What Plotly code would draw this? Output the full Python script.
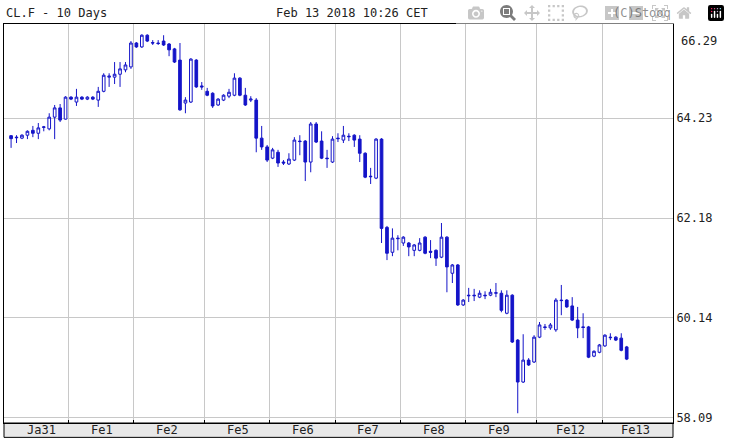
import plotly.graph_objects as go

# hourly candles, CL.F, Jan 31 - Feb 13 2018
opens = [63.87, 63.84, 63.82, 63.88, 63.98, 63.92, 64.04, 64.01, 64.25, 64.44, 64.21,
         64.66, 64.56, 64.66, 64.62, 64.66, 64.60, 64.78, 65.07, 65.07, 65.13, 65.22, 65.28,
         65.77, 65.69, 65.93, 65.78, 65.77, 65.81, 65.75, 65.65, 65.42, 64.54, 64.56, 65.42, 64.89,
         64.78, 64.74, 64.50, 64.60, 64.68, 64.70, 65.05, 64.70, 64.60, 64.60, 63.82, 63.64,
         63.41, 63.53, 63.33, 63.29, 63.37, 63.76, 63.76, 63.33, 64.11, 63.76, 63.41, 63.33,
         63.82, 63.78, 63.86, 63.88, 63.80, 63.51, 63.04, 63.00, 63.80, 61.99, 61.48, 61.77,
         61.67, 61.67, 61.52, 61.52, 61.79, 61.50, 61.52, 61.38, 61.79, 61.05, 61.22, 60.40,
         60.60, 60.60, 60.56, 60.60, 60.60, 60.64, 60.64, 60.23, 60.60, 59.68, 58.82, 59.27, 59.23,
         59.74, 59.95, 59.93, 59.89, 60.50, 60.50, 60.38, 60.09, 59.95, 59.95, 59.35, 59.43,
         59.56, 59.74, 59.74, 59.72, 59.54]
highs = [63.88, 63.88, 63.90, 63.98, 64.07, 64.13, 64.07, 64.33, 64.50, 64.52, 64.68,
         64.68, 64.83, 64.68, 64.68, 64.68, 64.87, 65.15, 65.15, 65.38, 65.38, 65.38, 65.81,
         65.79, 65.95, 65.95, 65.83, 65.83, 65.93, 65.77, 65.67, 65.77, 64.66, 65.46, 65.44, 64.97,
         64.85, 64.76, 64.64, 64.72, 64.83, 65.15, 65.07, 64.85, 64.68, 64.64, 64.07, 63.68,
         63.62, 63.58, 63.37, 63.51, 63.84, 63.88, 63.78, 64.15, 64.15, 63.96, 63.58, 63.86,
         63.92, 64.07, 63.92, 63.90, 63.88, 63.53, 63.21, 63.82, 63.82, 62.02, 61.97, 61.83,
         61.81, 61.69, 61.65, 61.77, 61.81, 61.73, 61.54, 62.08, 61.81, 61.24, 61.24, 60.52,
         60.75, 60.73, 60.70, 60.68, 60.73, 60.85, 60.70, 60.70, 60.62, 59.70, 59.80, 59.31, 59.78,
         60.05, 60.01, 60.03, 60.54, 60.81, 60.52, 60.56, 60.36, 60.23, 59.97, 59.47, 59.60,
         59.80, 59.82, 59.76, 59.82, 59.56]
lows = [63.62, 63.72, 63.80, 63.80, 63.84, 63.80, 63.96, 63.98, 63.80, 64.15, 64.20,
        64.60, 64.48, 64.60, 64.60, 64.60, 64.46, 64.76, 64.87, 64.93, 64.87, 65.17, 65.24,
        65.67, 65.67, 65.79, 65.73, 65.73, 65.71, 65.50, 65.36, 64.38, 64.33, 64.54, 64.85, 64.81,
        64.68, 64.44, 64.48, 64.58, 64.64, 64.68, 64.68, 64.48, 64.56, 63.53, 63.58, 63.33,
        63.39, 63.23, 63.27, 63.27, 63.35, 63.47, 62.94, 63.12, 63.72, 63.39, 63.21, 63.31,
        63.74, 63.72, 63.76, 63.64, 63.33, 63.00, 62.88, 62.98, 61.67, 61.32, 61.40, 61.52,
        61.61, 61.40, 61.40, 61.50, 61.44, 61.36, 61.20, 61.36, 60.66, 60.85, 60.38, 60.38,
        60.46, 60.48, 60.54, 60.52, 60.58, 60.56, 60.25, 60.21, 59.62, 58.18, 58.80, 59.15, 59.21,
        59.72, 59.89, 59.89, 59.85, 60.19, 60.34, 60.07, 59.72, 59.72, 59.31, 59.33, 59.41,
        59.54, 59.68, 59.66, 59.45, 59.27]
closes = [63.81, 63.83, 63.88, 63.96, 63.92, 64.03, 64.05, 64.25, 64.44, 64.19, 64.66,
          64.62, 64.66, 64.62, 64.66, 64.62, 64.78, 65.11, 65.09, 65.13, 65.24, 65.32, 65.77,
          65.69, 65.93, 65.81, 65.77, 65.76, 65.73, 65.63, 65.38, 64.40, 64.60, 65.44, 64.87, 64.87,
          64.70, 64.48, 64.62, 64.70, 64.76, 65.05, 64.70, 64.50, 64.62, 63.82, 63.64, 63.37,
          63.58, 63.31, 63.31, 63.39, 63.78, 63.75, 63.33, 64.11, 63.74, 63.41, 63.40, 63.80,
          63.81, 63.88, 63.85, 63.78, 63.51, 63.02, 63.03, 63.80, 61.97, 61.46, 61.77, 61.76,
          61.79, 61.59, 61.63, 61.67, 61.46, 61.48, 61.36, 61.79, 61.18, 61.22, 60.40, 60.50,
          60.59, 60.59, 60.64, 60.59, 60.66, 60.65, 60.29, 60.60, 59.64, 58.82, 59.27, 59.17, 59.74,
          59.99, 59.94, 59.99, 60.50, 60.49, 60.36, 60.09, 59.93, 59.94, 59.33, 59.45, 59.58,
          59.78, 59.73, 59.68, 59.47, 59.29]

day_labels = ["Ja31", "Fe1", "Fe2", "Fe5", "Fe6", "Fe7", "Fe8", "Fe9", "Fe12", "Fe13"]
day_counts = [11, 12, 13, 12, 12, 12, 12, 13, 12, 5]
price_ticks = [64.23, 62.18, 60.14, 58.09]
top_price = "66.29"

blue = "#1414c8"
mono = "DejaVu Sans Mono"

x = list(range(len(closes)))

# day boundaries for grid lines; labels sit inside each day
bounds = []
label_pos = []
start = 0
for n in day_counts:
    label_pos.append(start - 0.5 + 6.1)
    start += n
    bounds.append(start - 0.5)
bounds = bounds[:-1]

fig = go.Figure(go.Candlestick(
    x=x, open=opens, high=highs, low=lows, close=closes,
    increasing=dict(line=dict(color=blue, width=1), fillcolor="white"),
    decreasing=dict(line=dict(color=blue, width=1), fillcolor=blue),
    whiskerwidth=0, showlegend=False, hoverinfo="skip",
))

fig.update_layout(
    width=730, height=443,
    margin=dict(l=4, r=57, t=24, b=20),
    paper_bgcolor="white", plot_bgcolor="white",
    font=dict(family=mono, size=12, color="#222"),
    xaxis=dict(range=[-1.3, 121.5], tickvals=bounds, showticklabels=False,
               showgrid=True, gridcolor="#c8c8c8", gridwidth=1,
               zeroline=False, rangeslider=dict(visible=False),
               showline=True, linecolor="black", linewidth=1, mirror=True,
               ticks="inside", ticklen=3, tickcolor="black"),
    yaxis=dict(range=[57.98, 66.16], tickvals=price_ticks,
               ticktext=[f"{v:.2f}" for v in price_ticks], side="right",
               showgrid=True, gridcolor="#c8c8c8", gridwidth=1, zeroline=False,
               showline=True, linecolor="black", linewidth=1, mirror=True,
               ticks="", tickfont=dict(family=mono, size=12)),
)

# grey band under the plot with day names
fig.add_shape(type="rect", xref="paper", yref="paper", x0=0, x1=1, y0=-0.036, y1=0,
              fillcolor="#e8e8e8", line=dict(color="black", width=1), layer="below")
for lab, pos in zip(day_labels, label_pos):
    fig.add_annotation(x=pos, y=-0.018, xref="x", yref="paper", text=lab,
                       showarrow=False, font=dict(family=mono, size=12), yanchor="middle")

fig.add_annotation(x=1, y=0.98, xref="paper", yref="paper", text=top_price, xanchor="left",
                   xshift=6, showarrow=False, font=dict(family=mono, size=12))
fig.add_annotation(x=0, y=1, xref="paper", yref="paper", text="CL.F - 10 Days",
                   xanchor="left", yanchor="bottom", showarrow=False, yshift=2,
                   font=dict(family=mono, size=12))
fig.add_annotation(x=0.52, y=1, xref="paper", yref="paper", text="Feb 13 2018 10:26 CET",
                   xanchor="center", yanchor="bottom", showarrow=False, yshift=2,
                   font=dict(family=mono, size=12))
fig.add_annotation(x=1, y=1, xref="paper", yref="paper", text="(C)Stooq",
                   xanchor="right", yanchor="bottom", showarrow=False, yshift=2,
                   font=dict(family=mono, size=12))

fig.write_html("out.html", post_script="document.body.style.margin='0';")
